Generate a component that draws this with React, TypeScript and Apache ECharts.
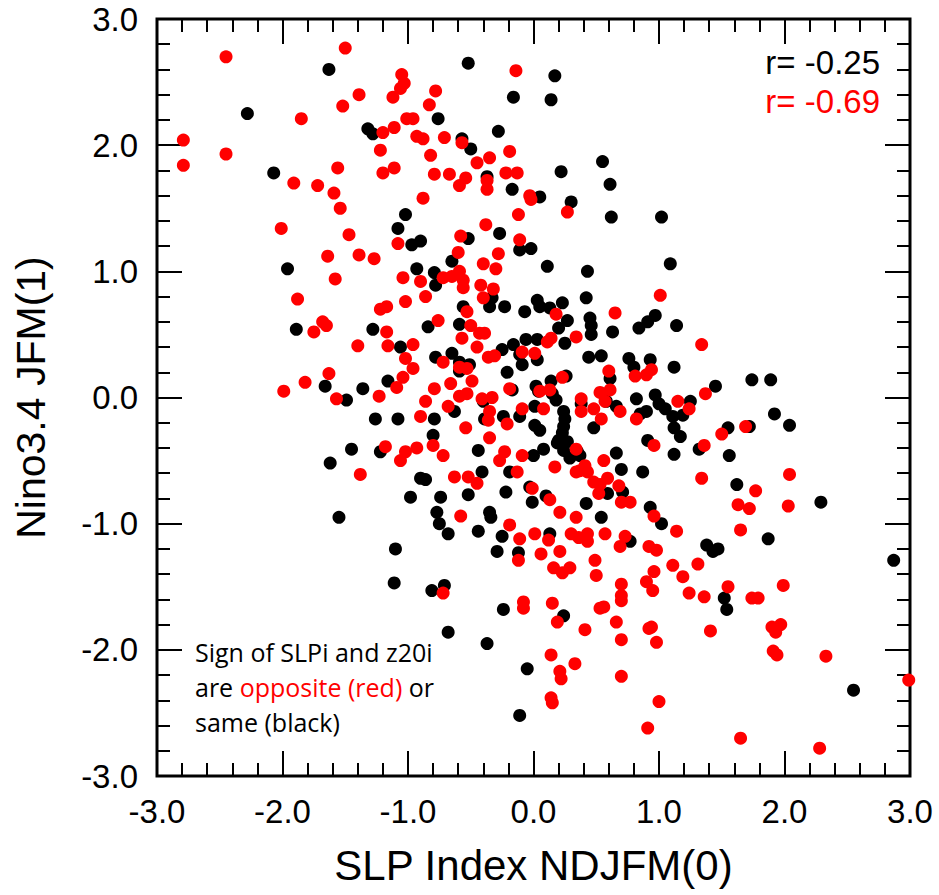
import React, { useEffect, useRef } from "react";
import * as echarts from "echarts";

// Sign of SLPi and z20i opposite (red)
const oppositeSign: number[][] = [
  [-2.45, 2.7], [-2.79, 2.04], [-2.79, 1.84], [-2.45, 1.93], [-1.85, 2.21], [-1.5, 2.77], [-1.39, 2.4], [-1.52, 2.31],
  [-1.05, 2.56], [-1.03, 2.49], [-1.06, 2.45], [-1.12, 2.38], [-1.01, 2.21], [-1.11, 2.14], [-1.2, 2.1], [-1.22, 1.96],
  [-1.2, 1.78], [-1.11, 1.82], [-1.56, 1.82], [-1.91, 1.7], [-1.72, 1.68], [-1.59, 1.62], [-1.54, 1.5], [-2.01, 1.34],
  [-1.47, 1.29], [-1.08, 1.22], [-1.64, 1.12], [-1.39, 1.13], [-1.27, 1.1],
  [-0.14, 2.59], [-0.78, 2.43], [-0.83, 2.32], [-0.96, 2.21], [-0.93, 2.07], [-0.88, 2.05], [-0.71, 2.06], [-0.57, 2.02],
  [-0.82, 1.92], [-0.19, 1.95], [-0.35, 1.9], [-0.45, 1.86], [-0.79, 1.77], [-0.67, 1.77], [-0.54, 1.74], [-0.59, 1.68],
  [-0.22, 1.78], [-0.13, 1.78], [-0.37, 1.72], [-0.37, 1.65], [-0.03, 1.6], [-0.02, 1.57], [-0.88, 1.58], [0.27, 1.47],
  [-0.12, 1.45], [-0.38, 1.37], [-0.58, 1.28], [-0.11, 1.25], [-0.6, 1.15], [-0.28, 1.14], [-0.4, 1.06], [-0.3, 1.02],
  [-0.59, 1.0],
  [-1.58, 0.94], [-1.04, 0.95], [-1.88, 0.78], [-1.02, 0.76], [-1.22, 0.7], [-1.17, 0.72], [-1.68, 0.6], [-1.65, 0.57],
  [-1.75, 0.52], [-1.17, 0.52], [-1.4, 0.41], [-1.16, 0.41], [-1.02, 0.31], [-1.63, 0.19], [-1.82, 0.12], [-1.99, 0.05],
  [-1.57, -0.01], [-1.23, 0.01], [-1.04, 0.16], [-1.09, 0.08], [-1.18, -0.39], [-1.02, -0.43], [-1.06, -0.5], [-1.38, -0.61],
  [-0.96, 0.42], [-0.96, 0.23], [-0.9, 0.92], [-0.72, 0.95], [-0.65, 0.96], [-0.56, 0.93], [-0.56, 0.87], [-0.42, 0.89],
  [-0.32, 0.86], [-0.4, 0.79], [-0.86, 0.8], [-0.53, 0.68], [0.18, 0.66], [0.34, 0.48], [0.65, 0.67], [1.01, 0.81],
  [-0.76, 0.61], [-0.5, 0.57], [-0.43, 0.51], [-0.39, 0.51], [-0.57, 0.47], [-0.45, 0.4], [-0.72, 0.28], [0.11, 0.44],
  [0.14, 0.47], [-0.36, 0.32], [-0.31, 0.33], [-0.09, 0.36], [0.01, 0.35], [-0.59, 0.24], [-0.53, 0.23], [0.81, 0.17],
  [0.9, 0.18], [0.94, 0.22], [0.6, 0.21], [0.23, 0.16], [-0.79, 0.07], [-0.66, 0.11], [-0.49, 0.13], [-0.86, -0.03],
  [-0.59, 0.01], [-0.53, 0.03], [-0.68, -0.07], [-0.9, -0.15], [-0.54, -0.24], [-0.8, -0.38], [-0.93, -0.4], [-0.72, -0.46],
  [-0.41, -0.01], [-0.33, 0.0], [-0.35, -0.11], [-0.36, -0.18], [-0.35, -0.32], [-0.21, -0.21], [-0.19, 0.07], [-0.09, -0.09],
  [0.05, 0.05], [0.13, 0.06], [0.08, -0.09], [0.34, -0.41], [0.38, -0.01], [0.38, -0.11], [0.48, -0.09], [0.53, 0.04],
  [0.57, -0.03], [0.61, 0.06], [0.54, -0.17], [0.69, -0.11], [0.82, -0.17], [0.96, -0.38], [0.56, -0.5], [0.41, -0.54],
  [0.43, -0.59], [0.37, -0.58], [0.34, -0.59], [0.17, -0.55], [0.48, -0.67], [0.53, -0.69], [0.59, -0.64], [0.52, -0.76],
  [0.68, -0.7], [0.7, -0.83], [0.77, -0.83], [0.96, -0.94], [0.34, -0.95], [0.21, -0.91], [0.13, -0.81], [-0.01, -0.72],
  [-0.19, -1.01], [-0.13, -0.59], [-0.23, -0.43], [-0.27, -0.5], [-0.09, -0.46], [-0.45, -0.68], [-0.52, -0.63], [-0.63, -0.63],
  [-0.58, -0.94],
  [1.34, 0.42], [1.37, 0.03], [1.15, -0.03], [1.24, -0.09], [1.69, -0.23], [1.5, -0.29], [1.36, -0.38], [1.34, -0.64],
  [2.04, -0.61], [1.77, -0.74], [1.63, -0.85], [1.72, -0.88], [2.03, -0.86],
  [-0.11, -1.12], [-0.12, -1.29], [0.01, -1.08], [0.12, -1.13], [0.06, -1.24], [0.21, -1.22], [0.3, -1.08], [0.36, -1.11],
  [0.43, -1.08], [0.43, -1.14], [0.57, -1.08], [0.73, -1.1], [0.69, -1.18], [0.92, -1.18], [0.98, -1.21], [0.49, -1.29],
  [0.16, -1.35], [0.23, -1.39], [0.29, -1.35], [0.5, -1.41], [0.96, -1.38], [0.9, -1.46], [0.95, -1.53], [0.7, -1.48],
  [0.7, -1.57], [0.7, -1.61], [0.53, -1.67], [0.56, -1.66], [0.66, -1.78], [0.7, -1.92], [0.92, -1.83], [0.94, -1.82],
  [0.98, -1.94], [0.7, -2.21], [1.0, -2.41], [0.91, -2.62], [-0.72, -1.55], [-0.08, -1.62], [-0.08, -1.67], [0.15, -1.63],
  [0.19, -1.78], [0.41, -1.84], [0.14, -2.04], [0.33, -2.11], [0.21, -2.17], [0.22, -2.23], [0.14, -2.38], [0.15, -2.42],
  [1.14, -1.06], [1.65, -1.05], [1.11, -1.33], [1.31, -1.32], [1.19, -1.42], [1.24, -1.55], [1.36, -1.58], [1.55, -1.5],
  [1.74, -1.59], [1.79, -1.59], [1.99, -1.49], [1.41, -1.85], [1.9, -1.82], [1.93, -1.86], [1.97, -1.8], [1.91, -2.01],
  [1.94, -2.04], [2.33, -2.05], [2.99, -2.24], [1.65, -2.7], [2.28, -2.78],
];

// Sign of SLPi and z20i the same (black)
const sameSign: number[][] = [
  [-1.63, 2.6], [-2.28, 2.25], [-1.32, 2.13], [-1.28, 2.09], [-2.07, 1.78], [-1.02, 1.45], [-1.08, 1.34], [-0.97, 1.21],
  [-1.96, 1.02],
  [-0.52, 2.65], [0.17, 2.55], [-0.16, 2.38], [0.14, 2.36], [-0.76, 2.21], [-0.28, 2.11], [-0.57, 2.05], [-0.5, 1.97],
  [-0.37, 1.75], [-0.17, 1.65], [0.05, 1.59], [0.22, 1.79], [0.3, 1.55], [0.55, 1.87], [0.61, 1.69], [0.62, 1.43],
  [1.02, 1.43], [-0.9, 1.24], [-0.52, 1.26], [-0.27, 1.3], [-0.11, 1.17], [-0.02, 1.18], [-0.65, 1.08], [-0.93, 1.02],
  [-0.79, 0.99], [0.11, 1.04], [0.43, 1.0], [1.09, 1.06],
  [-1.89, 0.54], [-1.28, 0.54], [-1.06, 0.4], [-1.16, 0.13], [-1.66, 0.09], [-1.36, 0.07], [-1.49, -0.02], [-1.26, -0.17],
  [-1.08, -0.17], [-1.45, -0.41], [-1.22, -0.43], [-1.62, -0.52], [-0.98, -0.79], [-1.55, -0.95],
  [-0.78, 0.89], [-0.33, 0.79], [-0.35, 0.72], [-0.23, 0.72], [-0.56, 0.72], [-0.07, 0.68], [0.03, 0.77], [0.05, 0.72],
  [0.13, 0.71], [0.23, 0.75], [0.42, 0.79], [0.27, 0.61], [0.2, 0.55], [0.45, 0.63], [0.46, 0.57], [0.46, 0.5],
  [0.63, 0.52], [0.84, 0.55], [0.91, 0.6], [0.97, 0.65], [-0.84, 0.56], [-0.59, 0.58], [-0.65, 0.35], [-0.78, 0.32],
  [-0.25, 0.38], [-0.16, 0.42], [-0.06, 0.46], [0.03, 0.46], [0.25, 0.43], [-0.11, 0.34], [0.03, 0.3], [-0.09, 0.26],
  [-0.59, 0.28], [-0.51, 0.26], [-0.59, 0.21], [-0.21, 0.2], [0.44, 0.32], [0.54, 0.33], [0.76, 0.31], [0.93, 0.3],
  [0.8, 0.24], [0.61, 0.15], [0.26, 0.17], [-0.63, -0.11], [-0.79, -0.17], [-0.8, -0.3], [-0.44, -0.42], [-0.4, -0.03],
  [-0.39, -0.17], [-0.24, -0.15], [-0.17, 0.06], [-0.11, -0.15], [0.02, 0.09], [0.04, 0.05], [0.14, 0.13], [0.15, 0.03],
  [0.18, -0.02], [0.01, -0.07], [0.24, -0.11], [0.25, -0.17], [0.24, -0.23], [0.23, -0.28], [0.2, -0.34], [0.19, -0.36],
  [0.01, -0.22], [0.05, -0.26], [0.0, -0.46], [0.08, -0.41], [0.24, -0.42], [0.27, -0.35], [0.35, -0.43], [0.29, -0.48],
  [0.37, -0.46], [0.38, -0.05], [0.48, -0.24], [0.58, -0.03], [0.66, -0.07], [0.82, -0.01], [0.9, -0.11], [0.85, -0.13],
  [0.97, 0.02], [0.91, -0.34], [0.66, -0.44], [0.7, -0.57], [0.59, -0.76], [0.71, -0.75], [0.87, -0.59], [0.93, -0.87],
  [0.54, -0.95], [0.42, -0.84], [0.1, -0.78], [-0.03, -0.71], [-0.01, -0.83], [-0.22, -0.75], [-0.19, -0.59], [-0.41, -0.59],
  [-0.52, -0.77], [-0.9, -0.64], [-0.86, -0.65], [-0.74, -0.79], [-0.77, -0.91], [-0.75, -1.0], [-0.35, -0.91], [-0.34, -0.95],
  [1.0, -0.05], [1.05, -0.09], [1.14, 0.57], [1.12, 0.24], [1.45, 0.09], [1.74, 0.14], [1.89, 0.14], [1.25, -0.03],
  [1.19, -0.14], [1.11, -0.15], [1.12, -0.24], [1.17, -0.31], [1.92, -0.13], [2.04, -0.22], [1.55, -0.24], [1.72, -0.23],
  [1.32, -0.41], [1.12, -0.45], [1.56, -0.46], [1.62, -0.69], [2.29, -0.83], [1.02, -1.0],
  [-1.1, -1.2], [-1.11, -1.47],
  [-0.68, -1.08], [-0.44, -1.06], [-0.25, -1.1], [-0.29, -1.22], [-0.12, -1.23], [0.13, -1.08], [0.77, -1.14], [-0.81, -1.53],
  [-0.71, -1.49], [-0.68, -1.86], [-0.24, -1.68], [-0.37, -1.95], [0.24, -1.73], [-0.05, -2.15], [-0.11, -2.52],
  [1.87, -1.12], [1.38, -1.17], [1.43, -1.22], [1.47, -1.2], [1.52, -1.59], [1.54, -1.68], [2.87, -1.29], [2.55, -2.32],
];

const axisMin = -3;
const axisMax = 3;
const axisStep = 1;
const xTitle = "SLP Index NDJFM(0)";
const yTitle = "Nino3.4 JFM(1)";
const corrSame = "r= -0.25";
const corrOpposite = "r= -0.69";

const FONT = "'Liberation Sans', Arial, Helvetica, sans-serif";
const NOTE_FONT = "'Open Sans', 'Noto Sans', sans-serif";

export default function App() {
  const ref = useRef<HTMLDivElement>(null);
  useEffect(() => {
    if (!ref.current) return;
    const chart = echarts.init(ref.current, null, { renderer: "svg" });
    const tickCommon = {
      inside: true,
      length: 25,
      lineStyle: { color: "#000", width: 2 },
    };
    const minorCommon = {
      show: true,
      splitNumber: 5,
      length: 13,
      lineStyle: { color: "#000", width: 2 },
    };
    const labelCommon = {
      color: "#000",
      fontFamily: FONT,
      fontSize: 33,
      margin: 19,
      formatter: (v: number) => v.toFixed(1),
    };
    const base = {
      type: "value",
      min: axisMin,
      max: axisMax,
      interval: axisStep,
      splitLine: { show: false },
      axisLine: { show: false, onZero: false },
    };
    chart.setOption({
      animation: false,
      backgroundColor: "#fff",
      grid: {
        left: 157,
        right: 29,
        top: 19,
        bottom: 119,
        show: true,
        borderColor: "#000",
        borderWidth: 3,
        backgroundColor: "transparent",
      },
      xAxis: [
        {
          ...base,
          position: "bottom",
          axisTick: tickCommon,
          minorTick: minorCommon,
          axisLabel: labelCommon,
          name: xTitle,
          nameLocation: "middle",
          nameGap: 68,
          nameTextStyle: { color: "#000", fontFamily: FONT, fontSize: 42 },
        },
        {
          ...base,
          position: "top",
          axisTick: tickCommon,
          minorTick: minorCommon,
          axisLabel: { show: false },
        },
      ],
      yAxis: [
        {
          ...base,
          position: "left",
          axisTick: tickCommon,
          minorTick: minorCommon,
          axisLabel: labelCommon,
          name: yTitle,
          nameLocation: "middle",
          nameRotate: 90,
          nameGap: 106,
          nameTextStyle: { color: "#000", fontFamily: FONT, fontSize: 41 },
        },
        {
          ...base,
          position: "right",
          axisTick: tickCommon,
          minorTick: minorCommon,
          axisLabel: { show: false },
        },
      ],
      series: [
        {
          type: "scatter",
          name: "same",
          xAxisIndex: 0,
          yAxisIndex: 0,
          data: sameSign,
          symbol: "circle",
          symbolSize: 13,
          itemStyle: { color: "#000000", opacity: 1 },
          z: 3,
        },
        {
          type: "scatter",
          name: "opposite",
          xAxisIndex: 0,
          yAxisIndex: 0,
          data: oppositeSign,
          symbol: "circle",
          symbolSize: 13,
          itemStyle: { color: "#ff0000", opacity: 1 },
          z: 3,
        },
      ],
      graphic: [
        {
          type: "text",
          right: 939 - 880,
          top: 46,
          style: {
            text: corrSame,
            fill: "#000",
            font: `33px ${FONT}`,
          },
        },
        {
          type: "text",
          right: 939 - 880,
          top: 85,
          style: {
            text: corrOpposite,
            fill: "#ff0000",
            font: `33px ${FONT}`,
          },
        },
        {
          type: "text",
          left: 195,
          top: 639,
          style: {
            text: "{a|Sign of SLPi and z20i}\n{a|are }{r|opposite (red)}{a| or}\n{a|same (black)}",
            rich: {
              a: { fill: "#000", fontFamily: NOTE_FONT, fontSize: 25, lineHeight: 35 },
              r: { fill: "#ff0000", fontFamily: NOTE_FONT, fontSize: 25, lineHeight: 35 },
            },
          },
        },
      ],
    });
    return () => chart.dispose();
  }, []);
  return (
    <div
      ref={ref}
      style={{ position: "fixed", left: 0, top: 0, width: 939, height: 895, background: "#fff" }}
    />
  );
}
